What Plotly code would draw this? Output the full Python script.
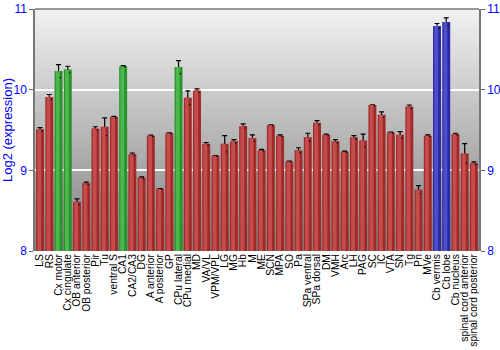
import base64
import struct
import zlib

import plotly.graph_objects as go

regions = ["LS", "RS", "Cx motor", "Cx cingulate", "OB anterior", "OB posterior", "Pir", "Tu",
           "ventral S", "CA1", "CA2/CA3", "DG", "A anterior", "A posterior", "GP", "CPu lateral",
           "CPu medial", "MD", "VA/VL", "VPM/VPL", "LG", "MG", "Hb", "M", "ME", "SCN", "MPA", "SO",
           "Pa", "SPa ventral", "SPa dorsal", "DM", "VMH", "Arc", "LH", "PAG", "SC", "IC", "VTA",
           "SN", "Tg", "Pn", "MVe", "Cb vermis", "Cb lobe", "Cb nucleus", "spinal cord anterior",
           "spinal cord posterior"]
expression = [9.51, 9.91, 10.23, 10.25, 8.61, 8.84, 9.52, 9.54, 9.66, 10.29, 9.20, 8.91, 9.43, 8.77,
              9.46, 10.28, 9.90, 9.99, 9.33, 9.18, 9.33, 9.36, 9.55, 9.40, 9.25, 9.56, 9.43, 9.11,
              9.25, 9.41, 9.59, 9.44, 9.36, 9.23, 9.41, 9.37, 9.81, 9.69, 9.47, 9.44, 9.79, 8.76,
              9.43, 10.79, 10.84, 9.45, 9.21, 9.09]
error = [0.02, 0.03, 0.08, 0.04, 0.035, 0.015, 0.02, 0.11, 0.01, 0.008, 0.015, 0.01, 0.008, 0.003,
         0.004, 0.08, 0.085, 0.02, 0.015, 0.003, 0.1, 0.02, 0.025, 0.04, 0.01, 0.003, 0.01, 0.003,
         0.03, 0.05, 0.025, 0.01, 0.02, 0.008, 0.02, 0.08, 0.003, 0.035, 0.005, 0.04, 0.02, 0.05,
         0.01, 0.03, 0.05, 0.01, 0.12, 0.015]
group = ["r", "r", "g", "g", "r", "r", "r", "r", "r", "g", "r", "r", "r", "r", "r", "g",
         "r", "r", "r", "r", "r", "r", "r", "r", "r", "r", "r", "r", "r", "r", "r", "r",
         "r", "r", "r", "r", "r", "r", "r", "r", "r", "r", "r", "b", "b", "r", "r", "r"]

base_col = {"r": "#a02a2a", "g": "#2c902c", "b": "#2a2aa0"}
light_col = {"r": "#c44c4c", "g": "#4cb84c", "b": "#4e4ecc"}
idx = list(range(len(regions)))

Y_MIN, Y_MAX = 8, 11


def gradient_png(top, bottom, h=256, w=4):
    rows = b""
    for i in range(h):
        v = int(round(top + (bottom - top) * i / (h - 1)))
        rows += b"\x00" + bytes([v, v, v]) * w

    def chunk(tag, data):
        c = struct.pack(">I", len(data)) + tag + data
        return c + struct.pack(">I", zlib.crc32(tag + data) & 0xffffffff)

    png = b"\x89PNG\r\n\x1a\n"
    png += chunk(b"IHDR", struct.pack(">IIBBBBB", w, h, 8, 2, 0, 0, 0))
    png += chunk(b"IDAT", zlib.compress(rows, 9))
    png += chunk(b"IEND", b"")
    return "data:image/png;base64," + base64.b64encode(png).decode()


fig = go.Figure()

fig.add_trace(go.Bar(
    x=idx, y=[e - Y_MIN for e in expression], base=Y_MIN,
    marker=dict(color=[base_col[g] for g in group], line=dict(width=0)),
    width=0.86,
    error_y=dict(type="data", array=error, color="black", thickness=1.2, width=2.5),
    hoverinfo="skip", showlegend=False))
fig.add_trace(go.Bar(
    x=idx, y=[e - Y_MIN for e in expression], base=Y_MIN,
    marker=dict(color=[light_col[g] for g in group], line=dict(width=0)),
    width=0.42, offset=-0.3,
    hoverinfo="skip", showlegend=False))

fig.add_trace(go.Scatter(x=[0], y=[Y_MIN], yaxis="y2", mode="markers",
                         marker=dict(opacity=0), showlegend=False, hoverinfo="skip"))

fig.add_layout_image(dict(source=gradient_png(242, 128), xref="paper", yref="paper",
                          x=0, y=1, sizex=1, sizey=1, sizing="stretch",
                          xanchor="left", yanchor="top", layer="below"))

fig.update_layout(
    width=500, height=350, barmode="overlay",
    margin=dict(l=35, r=21, t=9, b=99),
    paper_bgcolor="white", plot_bgcolor="rgba(0,0,0,0)",
    font=dict(family="Liberation Sans, Arial", size=10, color="black"),
    xaxis=dict(tickmode="array", tickvals=idx, ticktext=regions, tickangle=-90,
               range=[-0.55, len(regions) - 0.45], showgrid=False, ticks="",
               tickfont=dict(size=10.3, color="black"), showline=False, zeroline=False,
               automargin=False),
    yaxis=dict(range=[Y_MIN, Y_MAX], tickvals=[8, 9, 10, 11], showgrid=True,
               gridcolor="white", gridwidth=1.5, ticks="outside", ticklen=4,
               tickcolor="#666", tickfont=dict(size=12, color="blue"),
               showline=True, linecolor="#777", linewidth=1.5, mirror=False,
               zeroline=False, automargin=False,
               title=dict(text="Log2 (expression)", font=dict(size=13, color="blue"),
                          standoff=4)),
    yaxis2=dict(range=[Y_MIN, Y_MAX], tickvals=[8, 9, 10, 11], overlaying="y", side="right",
                showgrid=False, ticks="outside", ticklen=4, tickcolor="#666",
                tickfont=dict(size=12, color="blue"), showline=True, linecolor="#777",
                linewidth=1.5, zeroline=False, automargin=False),
)
fig.add_shape(type="line", xref="paper", yref="paper", x0=0, x1=1, y0=1, y1=1,
              line=dict(color="#777", width=1.5))

fig.write_html("out.html")
